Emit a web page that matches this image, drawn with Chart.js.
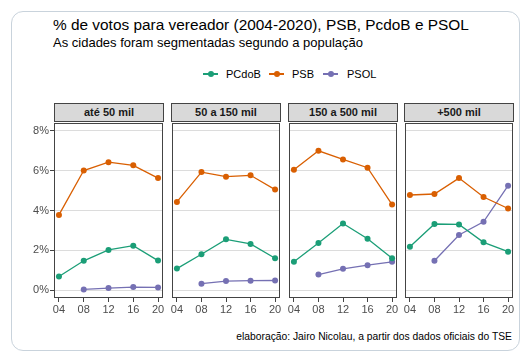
<!DOCTYPE html>
<html><head><meta charset="utf-8">
<script src="https://cdn.jsdelivr.net/npm/chart.js@4"></script>
<style>
html,body{margin:0;padding:0;background:#fff;}
body{width:529px;height:355px;position:relative;overflow:hidden;font-family:"Liberation Sans",Arial,sans-serif;}
.abs{position:absolute;}
#frame{left:11px;top:11px;width:507px;height:338px;border:1px solid #c9d3dc;border-radius:12px;}
#title{left:53px;top:17px;font-size:15.4px;line-height:15.4px;color:#000;white-space:nowrap;}
#subtitle{left:53px;top:36px;font-size:13px;line-height:13px;color:#000;white-space:nowrap;}
#caption{right:17px;top:331.9px;font-size:10.3px;line-height:10.3px;color:#000;white-space:nowrap;}
.strip{top:103px;height:19px;background:#d9d9d9;border:1px solid #444;box-sizing:border-box;font-size:11px;font-weight:bold;color:#1a1a1a;text-align:center;line-height:17px;}
.lgline{height:1.5px;width:15px;top:73.25px;}
.lgdot{width:6px;height:6px;border-radius:50%;top:71px;}
.lgtxt{top:68.6px;font-size:11px;line-height:11px;color:#000;white-space:nowrap;}
canvas{position:absolute;}
</style></head>
<body>
<div id="frame" class="abs"></div>
<div id="title" class="abs">% de votos para vereador (2004-2020), PSB, PcdoB e PSOL</div>
<div id="subtitle" class="abs">As cidades foram segmentadas segundo a população</div>
<div id="legend"></div>
<div id="caption" class="abs">elaboração: Jairo Nicolau, a partir dos dados oficiais do TSE</div>
<div id="panels"></div>
<script>
// ---- data ----
const categories = ['até 50 mil', '50 a 150 mil', '150 a 500 mil', '+500 mil'];
const years = [4, 8, 12, 16, 20];
const xTickLabels = ['04', '08', '12', '16', '20'];
const yTicks = [0, 2, 4, 6, 8];
const seriesNames = ['PCdoB', 'PSB', 'PSOL'];
const seriesColors = ['#1B9E77', '#D95F02', '#7570B3'];
// values per panel (same order as categories), in %
const pcdobValues = [
  [0.68, 1.47, 2.02, 2.23, 1.48],
  [1.08, 1.80, 2.55, 2.32, 1.60],
  [1.42, 2.37, 3.35, 2.58, 1.60],
  [2.18, 3.32, 3.30, 2.40, 1.93]
];
const psbValues = [
  [3.78, 6.01, 6.43, 6.27, 5.63],
  [4.43, 5.93, 5.70, 5.77, 5.05],
  [6.05, 7.00, 6.57, 6.15, 4.30],
  [4.78, 4.83, 5.63, 4.68, 4.10]
];
const psolValues = [
  [null, 0.03, 0.10, 0.15, 0.13],
  [null, 0.32, 0.45, 0.47, 0.48],
  [null, 0.78, 1.07, 1.25, 1.42],
  [null, 1.47, 2.77, 3.43, 5.25]
];
const allValues = [pcdobValues, psbValues, psolValues];

// ---- layout ----
const panelLefts = [54, 171, 288, 404];
const panelWidth = 110;
const plotTop = 122, plotHeight = 176, xAxisH = 20, padTop = 2, yAxisW = 40;

// legend
const legendPos = [[203, 226], [269, 292], [323, 347]];
const legend = document.getElementById('legend');
seriesNames.forEach((n, i) => {
  const [sx, tx] = legendPos[i];
  legend.insertAdjacentHTML('beforeend',
    `<div class="abs lgline" style="left:${sx}px;background:${seriesColors[i]}"></div>` +
    `<div class="abs lgdot" style="left:${sx + 4.5}px;background:${seriesColors[i]}"></div>` +
    `<div class="abs lgtxt" style="left:${tx}px">${n}</div>`);
});

const panelBox = {
  id: 'panelBox',
  afterDraw(chart) {
    const a = chart.chartArea, c = chart.ctx;
    c.save();
    c.strokeStyle = '#444';
    c.lineWidth = 1;
    c.strokeRect(Math.round(a.left) + 0.5, Math.round(a.top) + 0.5, Math.round(a.right - a.left) - 1, Math.round(a.bottom - a.top) - 1);
    c.restore();
  }
};

const panels = document.getElementById('panels');
categories.forEach((cat, p) => {
  const first = p === 0;
  const left = panelLefts[p];
  const strip = document.createElement('div');
  strip.className = 'abs strip';
  strip.style.left = left + 'px';
  strip.style.width = panelWidth + 'px';
  strip.textContent = cat;
  panels.appendChild(strip);

  const cv = document.createElement('canvas');
  const cLeft = first ? left - yAxisW : left - 2;
  const cWidth = first ? panelWidth + yAxisW + 2 : panelWidth + 4;
  const cHeight = padTop + plotHeight + xAxisH;
  cv.width = cWidth; cv.height = cHeight;
  cv.style.left = cLeft + 'px';
  cv.style.top = (plotTop - padTop) + 'px';
  cv.style.width = cWidth + 'px';
  cv.style.height = cHeight + 'px';
  panels.appendChild(cv);

  const datasets = seriesNames.map((n, s) => ({
    label: n,
    data: years.map((yr, i) => ({ x: yr, y: allValues[s][p][i] })),
    borderColor: seriesColors[s],
    backgroundColor: seriesColors[s],
    borderWidth: 1.3,
    pointRadius: 3,
    pointBorderWidth: 0,
    pointHoverRadius: 3,
    spanGaps: false,
    clip: false,
    tension: 0
  }));

  new Chart(cv, {
    type: 'line',
    data: { datasets },
    plugins: [panelBox],
    options: {
      responsive: false,
      animation: false,
      devicePixelRatio: 1,
      layout: { padding: { top: padTop, bottom: 0, left: first ? 0 : 2, right: 2 } },
      plugins: { legend: { display: false }, tooltip: { enabled: false }, title: { display: false } },
      scales: {
        x: {
          type: 'linear',
          min: 3.2, max: 20.8,
          afterBuildTicks: (s) => { s.ticks = years.map(v => ({ value: v })); },
          afterFit: (s) => { s.height = xAxisH; s.paddingLeft = 0; s.paddingRight = 0; },
          grid: { drawOnChartArea: false, drawTicks: true, tickLength: 4, tickColor: '#444', lineWidth: 1 },
          border: { display: false },
          ticks: {
            autoSkip: false, maxRotation: 0, padding: 1,
            color: '#4d4d4d',
            font: { family: 'Liberation Sans', size: 11 },
            callback: (v) => xTickLabels[years.indexOf(v)]
          }
        },
        y: {
          min: -0.4, max: 8.4,
          afterBuildTicks: (s) => { s.ticks = yTicks.map(v => ({ value: v })); },
          afterFit: (s) => { s.width = first ? yAxisW : 0; s.paddingTop = 0; s.paddingBottom = 0; },
          grid: { color: '#dcdcdc', lineWidth: 1, drawTicks: first, tickLength: 4, tickColor: '#444' },
          border: { display: false },
          ticks: {
            display: first, padding: 1,
            color: '#4d4d4d',
            font: { family: 'Liberation Sans', size: 11 },
            callback: (v) => v + '%'
          }
        }
      }
    }
  });
});
</script>
</body></html>
